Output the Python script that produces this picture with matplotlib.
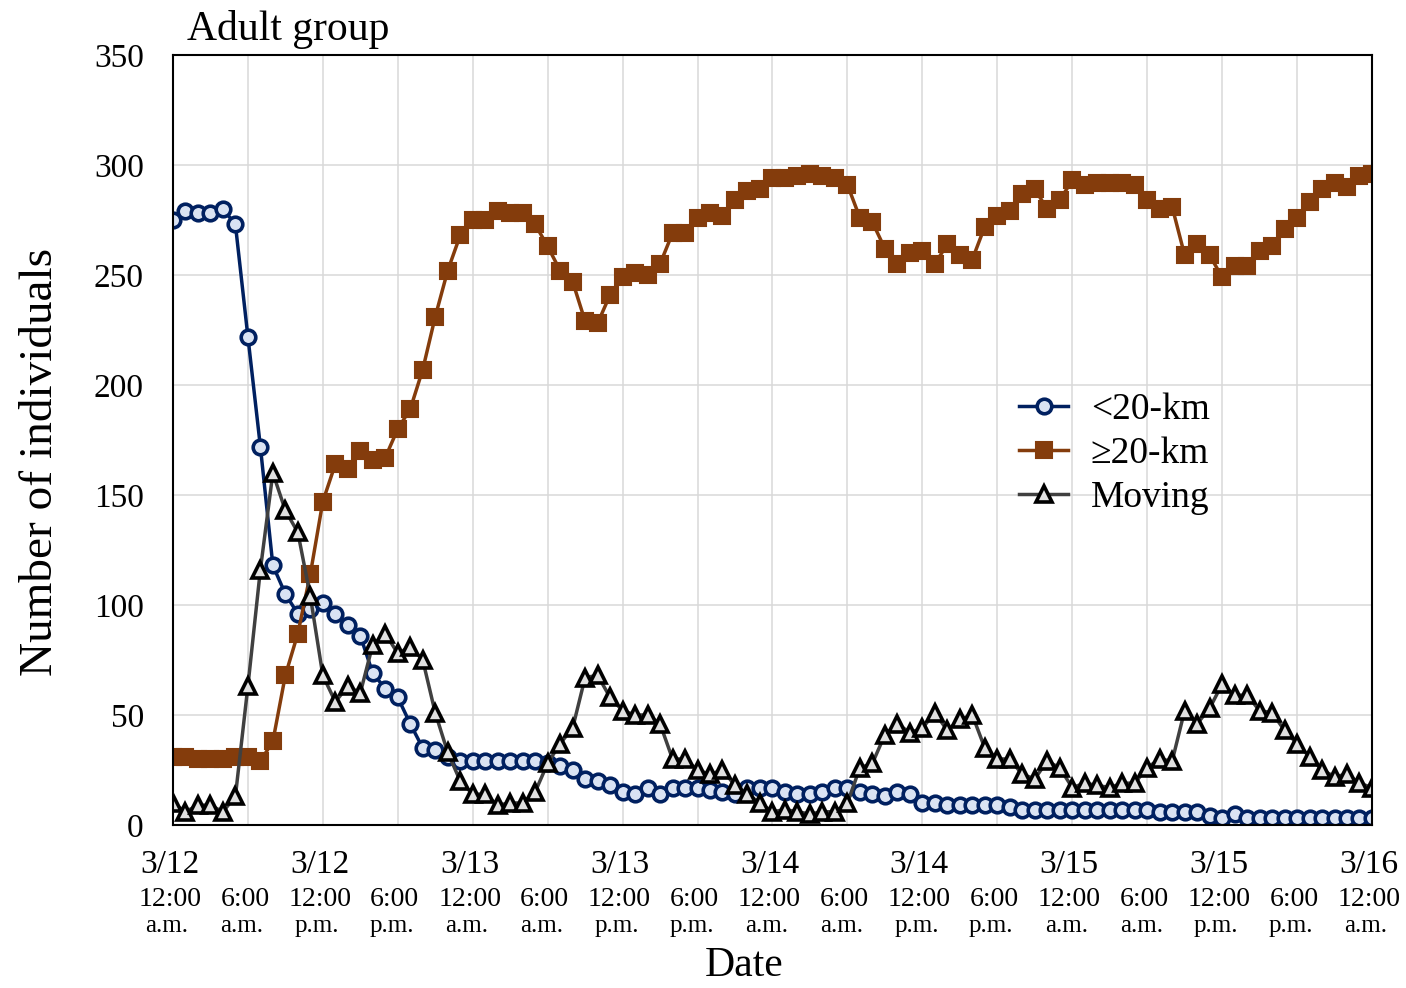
# Importing the libraries

import numpy as np
import matplotlib
matplotlib.use("Agg")
import matplotlib.pyplot as plt

plt.rcParams['font.family'] = ['Liberation Serif', 'DejaVu Serif']

# Data (one value per hour, 3/12 0:00 to 3/16 0:00)

hours = np.arange(97)

near = [275, 279, 278, 278, 280, 273, 222, 172, 118, 105, 96, 98,
        101, 96, 91, 86, 69, 62, 58, 46, 35, 34, 31, 29,
        29, 29, 29, 29, 29, 29, 28, 27, 25, 21, 20, 18,
        15, 14, 17, 14, 17, 17, 17, 16, 15, 14, 17, 17,
        17, 15, 14, 14, 15, 17, 17, 15, 14, 13, 15, 14,
        10, 10, 9, 9, 9, 9, 9, 8, 7, 7, 7, 7,
        7, 7, 7, 7, 7, 7, 7, 6, 6, 6, 6, 4,
        3, 5, 3, 3, 3, 3, 3, 3, 3, 3, 3, 3,
        3]

far = [31, 31, 30, 30, 30, 31, 31, 29, 38, 68, 87, 114,
       147, 164, 162, 170, 166, 167, 180, 189, 207, 231, 252, 268,
       275, 275, 279, 278, 278, 273, 263, 252, 247, 229, 228, 241,
       249, 251, 250, 255, 269, 269, 276, 278, 277, 284, 288, 289,
       294, 294, 295, 296, 295, 294, 291, 276, 274, 262, 255, 260,
       261, 255, 264, 259, 257, 272, 277, 279, 287, 289, 280, 284,
       293, 291, 292, 292, 292, 291, 284, 280, 281, 259, 264, 259,
       249, 254, 254, 261, 263, 271, 276, 283, 289, 292, 290, 295,
       296]

moving = [10, 6, 9, 9, 6, 13, 63, 116, 160, 143, 133, 104,
          68, 56, 63, 60, 82, 87, 78, 81, 75, 51, 33, 20,
          14, 14, 9, 10, 10, 15, 28, 37, 44, 67, 68, 58,
          52, 50, 50, 46, 30, 30, 25, 23, 25, 18, 14, 10,
          6, 7, 6, 5, 6, 6, 10, 26, 28, 41, 46, 42,
          44, 51, 43, 48, 50, 35, 30, 30, 23, 21, 29, 26,
          17, 19, 18, 17, 19, 19, 26, 30, 29, 52, 46, 53,
          64, 59, 59, 52, 51, 43, 37, 31, 25, 22, 23, 19,
          17]

# Tick labels

tick_hours = list(range(0, 97, 6))
date_labels = ["3/12", "3/12", "3/13", "3/13", "3/14", "3/14", "3/15", "3/15", "3/16"]
time_labels = ["12:00", "6:00"] * 8 + ["12:00"]
ampm_labels = ["a.m.", "a.m.", "p.m.", "p.m."] * 4 + ["a.m."]

# Plotting

fig = plt.figure(figsize=(14.06, 9.88), dpi=100)
ax = fig.add_axes([0.123, 0.165, 0.8528, 0.7794])

ax.plot(hours, near, color='#002060', lw=2.5, marker='o', ms=10.5,
        mfc='#DAE3F3', mec='#002060', mew=2.6, label='<20-km')
ax.plot(hours, far, color='#843C0C', lw=2.5, marker='s', ms=11.5,
        mfc='#843C0C', mec='#843C0C', mew=1.5, label='\u226520-km')
ax.plot(hours, moving, color='#404040', lw=2.5, marker='^', ms=12,
        mfc='#E0E0E0', mec='black', mew=2.6, label='Moving')

ax.set_xlim(0, 96)
ax.set_ylim(0, 350)
ax.set_yticks(range(0, 351, 50))
ax.set_xticks(tick_hours)
ax.set_xticklabels([])
ax.tick_params(axis='both', length=0)
ax.tick_params(axis='y', labelsize=24, pad=21)
ax.grid(True, color='#D9D9D9', lw=1.1)
ax.set_axisbelow(True)
for s in ax.spines.values():
    s.set_color('black')
    s.set_linewidth(1.5)

# Three-line x tick labels

for i, h in enumerate(tick_hours):
    if h % 12 == 0:
        ax.annotate(date_labels[h // 12], xy=(h, 0), xycoords=('data', 'axes fraction'),
                    xytext=(-3, -40), textcoords='offset pixels',
                    ha='center', va='center', fontsize=24)
    ax.annotate(time_labels[i], xy=(h, 0), xycoords=('data', 'axes fraction'),
                xytext=(-3, -75), textcoords='offset pixels',
                ha='center', va='center', fontsize=20)
    ax.annotate(ampm_labels[i], xy=(h, 0), xycoords=('data', 'axes fraction'),
                xytext=(-6, -101), textcoords='offset pixels',
                ha='center', va='center', fontsize=18)

ax.set_xlabel('Date', fontsize=30)
ax.xaxis.set_label_coords(0.476, -0.158)
ax.set_ylabel('Number of individuals', fontsize=34)
ax.yaxis.set_label_coords(-0.0926, 0.471)
ax.text(0.012, 1.02, 'Adult group', transform=ax.transAxes,
        fontsize=30, ha='left', va='baseline')

ax.legend(loc='upper left', bbox_to_anchor=(0.706, 0.562), frameon=False,
          fontsize=27, borderpad=0, borderaxespad=0, handlelength=1.3,
          handletextpad=0.6, labelspacing=0.26)

plt.savefig('out.png', dpi=100)
